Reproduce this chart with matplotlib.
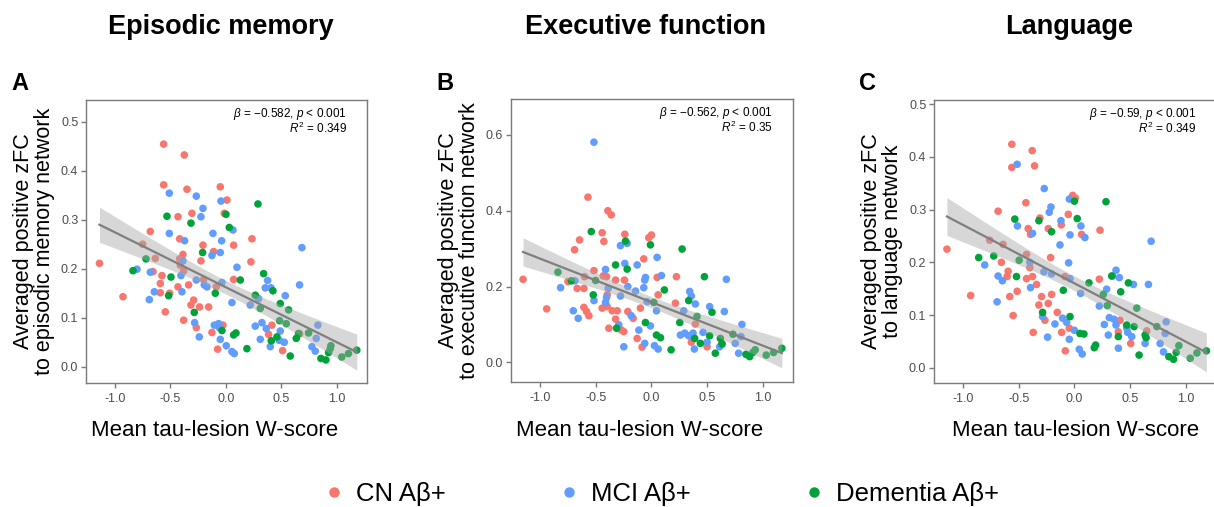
import numpy as np
import matplotlib
matplotlib.use("Agg")
import matplotlib.pyplot as plt
from matplotlib.lines import Line2D

plt.rcParams['font.family'] = ['Liberation Sans', 'DejaVu Sans']
plt.rcParams['mathtext.fontset'] = 'custom'
plt.rcParams['mathtext.rm'] = 'Liberation Sans'
plt.rcParams['mathtext.it'] = 'Liberation Sans:italic'

## colours for the three groups
groups = ["CN Aβ+", "MCI Aβ+", "Dementia Aβ+"]
colors = ["#F8766D", "#619CFF", "#00A339"]

## panel A - episodic memory
a_cn_x = [-0.561, -0.375, -0.561, -0.351, -0.051, 0.009, -0.306, -0.432, -0.015, -0.681,
          -0.417, -0.750, -0.207, -0.111, 0.234, 0.069, -0.636, -0.417, -0.387, -0.225,
          0.225, -1.139, -0.657, -0.381, -0.576, -0.591, -0.432, -0.507, -0.336, -0.591,
          -0.927, -0.201, -0.087, 0.069, -0.291, -0.315, -0.237, -0.156, -0.546, -0.381,
          -0.267, -0.126, -0.027, -0.075, 0.414, 0.384, 0.510, 0.663, -0.411]
a_cn_y = [0.454, 0.432, 0.371, 0.362, 0.367, 0.340, 0.313, 0.306, 0.313, 0.276,
          0.261, 0.250, 0.248, 0.235, 0.261, 0.248, 0.221, 0.220, 0.229, 0.216,
          0.214, 0.211, 0.194, 0.195, 0.186, 0.170, 0.163, 0.150, 0.167, 0.151,
          0.143, 0.178, 0.163, 0.178, 0.136, 0.126, 0.122, 0.122, 0.112, 0.095,
          0.080, 0.070, 0.085, 0.036, 0.085, 0.066, 0.033, 0.067, 0.207]
a_mci_x = [-0.510, -0.267, -0.045, -0.207, -0.225, -0.510, -0.372, -0.117, -0.039, 0.063,
           -0.051, -0.126, 0.684, -0.387, -0.801, -0.681, 0.099, -0.405, -0.267, -0.195,
           -0.171, -0.036, 0.375, 0.354, 0.405, 0.663, -0.645, -0.690, -0.396, 0.294,
           0.534, 0.054, 0.219, -0.282, -0.105, -0.066, -0.060, 0.264, 0.324, 0.363,
           0.489, -0.240, -0.051, 0.003, 0.054, 0.075, 0.309, 0.399, 0.480, 0.525,
           0.828, 0.813, 0.774, 0.804]
a_mci_y = [0.354, 0.348, 0.338, 0.323, 0.306, 0.272, 0.257, 0.272, 0.257, 0.279,
           0.233, 0.227, 0.243, 0.216, 0.199, 0.193, 0.203, 0.186, 0.177, 0.167,
           0.163, 0.172, 0.176, 0.161, 0.161, 0.167, 0.153, 0.137, 0.153, 0.139,
           0.145, 0.131, 0.126, 0.090, 0.085, 0.088, 0.080, 0.083, 0.090, 0.078,
           0.073, 0.061, 0.056, 0.043, 0.031, 0.027, 0.056, 0.041, 0.054, 0.050,
           0.085, 0.058, 0.041, 0.032]
a_dem_x = [0.288, -0.531, 0.000, -0.315, 0.030, -0.210, -0.720, -0.837, -0.495, 0.129,
           0.339, 0.423, 0.264, -0.516, -0.096, 0.309, 0.489, 0.564, -0.285, 0.483,
           0.543, -0.036, 0.069, 0.090, 0.189, 0.408, 0.459, 0.654, 0.633, 0.744,
           0.579, 0.855, 0.900, 0.924, 0.939, 0.945, 1.043, 1.103, 1.178]
a_dem_y = [0.332, 0.307, 0.311, 0.293, 0.284, 0.233, 0.220, 0.196, 0.183, 0.177,
           0.190, 0.155, 0.146, 0.145, 0.150, 0.119, 0.129, 0.116, 0.111, 0.094,
           0.088, 0.074, 0.065, 0.069, 0.037, 0.053, 0.061, 0.068, 0.058, 0.069,
           0.022, 0.017, 0.014, 0.029, 0.037, 0.043, 0.020, 0.027, 0.034]

## panel B - executive function
b_cn_x = [-0.570, -0.391, -0.361, -0.442, -0.239, -0.427, -0.645, -0.690, -0.024, 0.000,
          -0.069, -0.516, -0.600, -0.433, -0.403, -0.749, -0.666, -0.606, -0.322, -0.242,
          -1.152, -0.940, -0.606, -0.582, -0.561, -0.397, -0.442, -0.397, -0.352, -0.307,
          -0.322, -0.382, -0.269, -0.248, -0.212, -0.164, -0.099, -0.128, -0.084, 0.051,
          0.060, 0.215, 0.224, 0.394, 0.358, 0.499, 0.633]
b_cn_y = [0.436, 0.400, 0.389, 0.342, 0.338, 0.319, 0.323, 0.297, 0.329, 0.336,
          0.273, 0.242, 0.226, 0.228, 0.226, 0.213, 0.195, 0.195, 0.217, 0.217,
          0.219, 0.141, 0.145, 0.134, 0.123, 0.178, 0.143, 0.147, 0.136, 0.136,
          0.114, 0.090, 0.085, 0.081, 0.134, 0.116, 0.143, 0.063, 0.040, 0.224,
          0.178, 0.156, 0.226, 0.101, 0.053, 0.041, 0.050]
b_mci_x = [-0.516, -0.278, -0.218, -0.239, -0.128, 0.051, -0.412, -0.054, -0.060, 0.090,
           -0.212, -0.388, -0.069, -0.143, -0.815, -0.687, -0.516, -0.403, -0.278, -0.412,
           -0.701, -0.657, -0.039, 0.045, -0.182, -0.293, -0.009, -0.113, 0.290, 0.343,
           0.358, 0.394, 0.522, 0.654, 0.672, 0.260, 0.299, 0.334, 0.373, 0.463,
           0.499, 0.612, 0.812, 0.803, 0.752, 0.782, -0.248, -0.060, 0.027, 0.060,
           0.385]
b_mci_y = [0.581, 0.308, 0.314, 0.261, 0.257, 0.277, 0.245, 0.224, 0.217, 0.229,
           0.200, 0.195, 0.197, 0.188, 0.197, 0.215, 0.163, 0.171, 0.175, 0.158,
           0.136, 0.116, 0.160, 0.136, 0.123, 0.099, 0.096, 0.085, 0.136, 0.187,
           0.175, 0.154, 0.147, 0.134, 0.219, 0.072, 0.077, 0.070, 0.077, 0.079,
           0.053, 0.041, 0.100, 0.068, 0.050, 0.024, 0.041, 0.050, 0.044, 0.035,
           0.035]
b_dem_x = [-0.540, -0.233, -0.009, 0.275, -0.322, -0.218, -0.839, -0.501, -0.719, -0.522,
           0.116, 0.475, 0.021, 0.334, 0.409, 0.543, -0.054, 0.254, -0.313, 0.045,
           0.081, 0.176, 0.388, 0.439, 0.522, 0.573, 0.618, 0.633, 0.731, 0.848,
           0.881, 0.910, 0.931, 1.030, 1.096, 1.170]
b_dem_y = [0.345, 0.320, 0.310, 0.299, 0.257, 0.246, 0.238, 0.216, 0.215, 0.178,
           0.191, 0.226, 0.158, 0.163, 0.121, 0.132, 0.105, 0.105, 0.090, 0.072,
           0.065, 0.033, 0.063, 0.050, 0.070, 0.024, 0.063, 0.048, 0.074, 0.021,
           0.015, 0.026, 0.033, 0.019, 0.026, 0.037]

## panel C - language
c_cn_x = [-0.562, -0.379, -0.562, -0.358, -0.436, -0.685, -0.310, -0.415, -0.394, -0.235,
          -0.016, 0.008, -0.055, -0.118, 0.064, 0.229, -0.760, -0.640, -0.655, -0.430,
          -0.400, -0.214, -0.595, -0.604, -0.430, -0.376, -1.144, -0.931, -0.514, -0.580,
          -0.550, -0.340, -0.295, -0.319, -0.235, -0.205, -0.154, -0.265, -0.370, -0.115,
          -0.046, -0.082, -0.085, 0.223, 0.409, 0.394, 0.505, 0.649]
c_cn_y = [0.424, 0.412, 0.380, 0.383, 0.313, 0.297, 0.284, 0.264, 0.253, 0.264,
          0.327, 0.322, 0.291, 0.271, 0.253, 0.261, 0.242, 0.234, 0.200, 0.215,
          0.190, 0.209, 0.183, 0.173, 0.169, 0.173, 0.225, 0.137, 0.145, 0.135,
          0.099, 0.158, 0.135, 0.119, 0.122, 0.139, 0.105, 0.090, 0.067, 0.067,
          0.075, 0.032, 0.173, 0.168, 0.090, 0.068, 0.046, 0.070]
c_mci_x = [-0.514, -0.271, -0.211, -0.226, -0.046, -0.511, -0.376, -0.121, 0.058, 0.094,
           -0.040, -0.130, 0.688, -0.805, -0.685, -0.646, -0.400, -0.274, -0.205, -0.052,
           -0.040, -0.394, -0.694, 0.055, 0.223, 0.289, 0.343, 0.373, 0.403, 0.529,
           0.664, -0.286, -0.175, -0.106, -0.070, -0.001, -0.241, -0.046, 0.043, 0.070,
           0.268, 0.304, 0.313, 0.355, 0.373, 0.394, 0.469, 0.478, 0.514, 0.634,
           0.769, 0.799, 0.814, 0.823]
c_mci_y = [0.386, 0.340, 0.305, 0.295, 0.320, 0.269, 0.255, 0.279, 0.269, 0.247,
           0.252, 0.233, 0.240, 0.195, 0.174, 0.165, 0.200, 0.182, 0.178, 0.199,
           0.169, 0.152, 0.125, 0.141, 0.117, 0.149, 0.174, 0.185, 0.171, 0.158,
           0.158, 0.097, 0.083, 0.094, 0.086, 0.071, 0.058, 0.054, 0.035, 0.026,
           0.082, 0.062, 0.095, 0.092, 0.081, 0.037, 0.075, 0.067, 0.059, 0.046,
           0.046, 0.030, 0.065, 0.087]
c_dem_x = [0.000, 0.283, -0.535, -0.319, 0.025, -0.205, -0.859, -0.724, -0.496, -0.520,
           0.130, -0.100, 0.259, 0.334, 0.415, 0.484, 0.295, 0.559, -0.286, -0.040,
           0.049, 0.085, 0.190, 0.178, 0.394, 0.469, 0.535, 0.634, 0.643, 0.580,
           0.739, 0.847, 0.889, 0.913, 0.937, 1.039, 1.099, 1.184]
c_dem_y = [0.316, 0.315, 0.282, 0.279, 0.283, 0.258, 0.209, 0.212, 0.204, 0.173,
           0.161, 0.147, 0.139, 0.174, 0.144, 0.161, 0.118, 0.113, 0.105, 0.097,
           0.065, 0.064, 0.043, 0.038, 0.059, 0.081, 0.078, 0.062, 0.057, 0.024,
           0.078, 0.021, 0.016, 0.029, 0.042, 0.018, 0.028, 0.032]

titles = ["Episodic memory", "Executive function", "Language"]
letters = ["A", "B", "C"]
ylabels = ["Averaged positive zFC\nto episodic memory network",
           "Averaged positive zFC\nto executive function network",
           "Averaged positive zFC\nto language network"]
stats = [(r"$\it{\beta}$ = $-$0.582, $\it{p}$ < 0.001", r"$\it{R}^2$ = 0.349"),
         (r"$\it{\beta}$ = $-$0.562, $\it{p}$ < 0.001", r"$\it{R}^2$ = 0.35"),
         (r"$\it{\beta}$ = $-$0.59, $\it{p}$ < 0.001", r"$\it{R}^2$ = 0.349")]
yticks = [[0.0, 0.1, 0.2, 0.3, 0.4, 0.5], [0.0, 0.2, 0.4, 0.6], [0.0, 0.1, 0.2, 0.3, 0.4, 0.5]]
ylims = [(-0.033, 0.544), (-0.052, 0.695), (-0.029, 0.508)]
xticks = [-1.0, -0.5, 0.0, 0.5, 1.0]

data = [[(a_cn_x, a_cn_y), (a_mci_x, a_mci_y), (a_dem_x, a_dem_y)],
        [(b_cn_x, b_cn_y), (b_mci_x, b_mci_y), (b_dem_x, b_dem_y)],
        [(c_cn_x, c_cn_y), (c_mci_x, c_mci_y), (c_dem_x, c_dem_y)]]

fig = plt.figure(figsize=(12.14, 5.07), dpi=100)
W, H = 1214, 507
## axes boxes in pixels: left, top, right, bottom
boxes = [(86, 100, 367, 383), (511, 99, 793, 382), (934, 100, 1216, 383)]
xlab_center = [215, 640, 1076]
gray = "#7a7a7a"

for i in range(3):
    l, t, r, b = boxes[i]
    ax = fig.add_axes([l / W, 1 - b / H, (r - l) / W, (b - t) / H])
    allx = []
    ally = []
    for g in range(3):
        gx, gy = data[i][g]
        ax.scatter(gx, gy, s=30, color=colors[g], edgecolors="none", zorder=2)
        allx += gx
        ally += gy
    ## linear fit with 95% band
    x = np.array(allx)
    y = np.array(ally)
    n = len(x)
    slope, icpt = np.polyfit(x, y, 1)
    resid = y - (icpt + slope * x)
    s = np.sqrt(np.sum(resid ** 2) / (n - 2))
    xs = np.linspace(x.min(), x.max(), 100)
    se = s * np.sqrt(1 / n + (xs - x.mean()) ** 2 / np.sum((x - x.mean()) ** 2))
    fit = icpt + slope * xs
    ax.fill_between(xs, fit - 1.977 * se, fit + 1.977 * se, color="#a8a8a8", alpha=0.45,
                    linewidth=0, zorder=3)
    ax.plot(xs, fit, color="#7f7f7f", linewidth=1.6, zorder=4)

    ax.set_xlim(-1.26, 1.27)
    ax.set_ylim(*ylims[i])
    ax.set_xticks(xticks)
    ax.set_xticklabels(["-1.0", "-0.5", "0.0", "0.5", "1.0"])
    ax.set_yticks(yticks[i])
    ax.set_yticklabels(["%.1f" % v for v in yticks[i]])
    for sp in ax.spines.values():
        sp.set_color(gray)
        sp.set_linewidth(1.0)
    ax.tick_params(colors=gray, labelcolor="#4d4d4d", labelsize=9, length=3.5, width=1.0)
    ax.tick_params(axis="x", pad=4)
    ax.tick_params(axis="y", pad=2)
    ax.set_xlabel("Mean tau-lesion W-score", fontsize=16)
    ax.xaxis.set_label_coords((xlab_center[i] - l) / (r - l), -(430 - b) / (b - t),
                              transform=ax.transAxes)
    ax.xaxis.label.set_va("center")
    ax.set_ylabel(ylabels[i], fontsize=15.5, labelpad=4, linespacing=1.0)
    ax.text(1 - 20 / (r - l), 1 - 6 / (b - t), stats[i][0], transform=ax.transAxes,
            ha="right", va="top", fontsize=8.5)
    ax.text(1 - 20 / (r - l), 1 - 21 / (b - t), stats[i][1], transform=ax.transAxes,
            ha="right", va="top", fontsize=8.5)

    fig.text((l + r) / 2 / W - 0.005, 1 - 27 / H, titles[i], ha="center", va="center",
             fontsize=19.5, fontweight="bold")
    fig.text((l - 75) / W, 1 - 83 / H, letters[i], ha="left", va="center",
             fontsize=17, fontweight="bold")

handles = [Line2D([], [], marker="o", linestyle="none", markersize=7.5, color=c,
                  markeredgewidth=0) for c in colors]
fig.legend(handles, groups, loc="center", bbox_to_anchor=(0.546, 1 - 494 / H), ncol=3,
           frameon=False, fontsize=18.5, columnspacing=4.5, handlelength=0.6,
           handletextpad=0.55)

fig.savefig("out.png", dpi=100)
